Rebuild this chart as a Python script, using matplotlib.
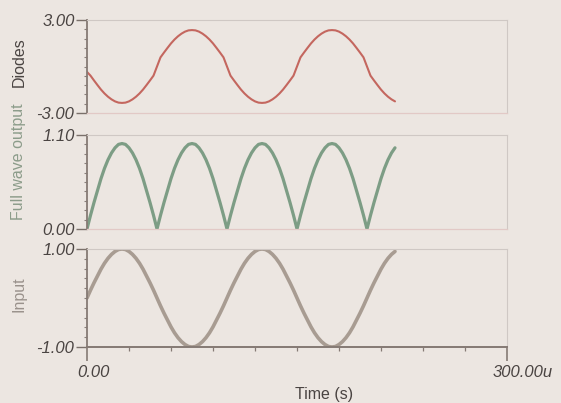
import matplotlib
matplotlib.use("Agg")
import matplotlib.pyplot as plt
from matplotlib.ticker import MultipleLocator
import matplotlib.transforms as mtransforms

# ---- data (time in microseconds, sampled every 2.5 us) ----
time_us = [0, 2.5, 5, 7.5, 10, 12.5, 15, 17.5, 20, 22.5, 25, 27.5, 30, 32.5, 35, 37.5, 40, 42.5, 45, 47.5,
           50, 52.5, 55, 57.5, 60, 62.5, 65, 67.5, 70, 72.5, 75, 77.5, 80, 82.5, 85, 87.5, 90, 92.5, 95, 97.5,
           100, 102.5, 105, 107.5, 110, 112.5, 115, 117.5, 120, 122.5, 125, 127.5, 130, 132.5, 135, 137.5,
           140, 142.5, 145, 147.5, 150, 152.5, 155, 157.5, 160, 162.5, 165, 167.5, 170, 172.5, 175, 177.5,
           180, 182.5, 185, 187.5, 190, 192.5, 195, 197.5, 200, 202.5, 205, 207.5, 210, 212.5, 215, 217.5, 220]
input_v = [0, .16, .31, .45, .59, .71, .81, .89, .95, .99, 1, .99, .95, .89, .81, .71, .59, .45, .31, .16,
           0, -.16, -.31, -.45, -.59, -.71, -.81, -.89, -.95, -.99, -1, -.99, -.95, -.89, -.81, -.71, -.59, -.45, -.31, -.16,
           0, .16, .31, .45, .59, .71, .81, .89, .95, .99, 1, .99, .95, .89, .81, .71, .59, .45, .31, .16,
           0, -.16, -.31, -.45, -.59, -.71, -.81, -.89, -.95, -.99, -1, -.99, -.95, -.89, -.81, -.71, -.59, -.45, -.31, -.16,
           0, .16, .31, .45, .59, .71, .81, .89, .95]
fullwave_v = [0, .16, .31, .45, .59, .71, .81, .89, .95, .99, 1, .99, .95, .89, .81, .71, .59, .45, .31, .16,
              0, .16, .31, .45, .59, .71, .81, .89, .95, .99, 1, .99, .95, .89, .81, .71, .59, .45, .31, .16,
              0, .16, .31, .45, .59, .71, .81, .89, .95, .99, 1, .99, .95, .89, .81, .71, .59, .45, .31, .16,
              0, .16, .31, .45, .59, .71, .81, .89, .95, .99, 1, .99, .95, .89, .81, .71, .59, .45, .31, .16,
              0, .16, .31, .45, .59, .71, .81, .89, .95]
diode_v = [-0.35, -0.59, -0.90, -1.20, -1.49, -1.74, -1.95, -2.12, -2.25, -2.33, -2.35, -2.33, -2.25, -2.12,
           -1.95, -1.74, -1.49, -1.20, -0.90, -0.59,
           0, 0.59, 0.90, 1.20, 1.49, 1.74, 1.95, 2.12, 2.25, 2.33, 2.35, 2.33, 2.25, 2.12,
           1.95, 1.74, 1.49, 1.20, 0.90, 0.59,
           0, -0.59, -0.90, -1.20, -1.49, -1.74, -1.95, -2.12, -2.25, -2.33, -2.35, -2.33, -2.25, -2.12,
           -1.95, -1.74, -1.49, -1.20, -0.90, -0.59,
           0, 0.59, 0.90, 1.20, 1.49, 1.74, 1.95, 2.12, 2.25, 2.33, 2.35, 2.33, 2.25, 2.12,
           1.95, 1.74, 1.49, 1.20, 0.90, 0.59,
           0, -0.59, -0.90, -1.20, -1.49, -1.74, -1.95, -2.12, -2.25]

x_range = (0, 300)
x_ticklabels = ["0.00", "300.00u"]
panels = [
    dict(name="Diodes", v=diode_v, ylim=(-3.0, 3.0), ylabels=["-3.00", "3.00"],
         color="#c4675f", lw=1.5, lab_color="#4a4442"),
    dict(name="Full wave output", v=fullwave_v, ylim=(0.0, 1.10), ylabels=["0.00", "1.10"],
         color="#7d9d85", lw=2.3, lab_color="#8c9c8a"),
    dict(name="Input", v=input_v, ylim=(-1.0, 1.0), ylabels=["-1.00", "1.00"],
         color="#a89c92", lw=2.6, lab_color="#9a928c"),
]

W, H = 561, 403
bg = "#ece6e1"
fig = plt.figure(figsize=(W / 100, H / 100), dpi=100, facecolor=bg)
plt.rcParams['font.family'] = ['Liberation Sans', 'DejaVu Sans']

left, right = 87, 507
boxes = [(20, 113), (135, 229), (249, 347)]
label_y = [62, 162, 294]

for i, (p, (top, bot)) in enumerate(zip(panels, boxes)):
    ax = fig.add_axes([left / W, 1 - bot / H, (right - left) / W, (bot - top) / H])
    ax.set_facecolor(bg)
    ax.plot(time_us, p["v"], color=p["color"], lw=p["lw"], solid_capstyle="round",
            solid_joinstyle="round")
    ax.set_xlim(*x_range)
    ax.set_ylim(*p["ylim"])
    ax.set_yticks(list(p["ylim"]))
    ax.set_yticklabels(p["ylabels"], fontsize=12, style="italic", color="#4a4442")
    ax.yaxis.set_minor_locator(MultipleLocator((p["ylim"][1] - p["ylim"][0]) / 10))
    ax.tick_params(axis="y", which="major", length=8, width=1, color="#7a706a", pad=1)
    ax.tick_params(axis="y", which="minor", length=2.5, width=0.8, color="#8a807a")
    for s in ["top", "right"]:
        ax.spines[s].set_color("#cfc8c4")
        ax.spines[s].set_linewidth(0.8)
    ax.spines["left"].set_color("#857a74")
    ax.spines["left"].set_linewidth(1.3)
    if i < 2:
        ax.spines["bottom"].set_color("#e2c9c6")
        ax.spines["bottom"].set_linewidth(0.9)
        ax.set_xticks([])
    else:
        ax.spines["bottom"].set_color("#857a74")
        ax.spines["bottom"].set_linewidth(1.4)
        ax.set_xticks(list(x_range))
        ax.set_xticklabels(x_ticklabels, fontsize=12, style="italic", color="#4a4442")
        ax.xaxis.set_minor_locator(MultipleLocator(30))
        ax.tick_params(axis="x", which="major", length=10, width=1.2, color="#857a74", pad=3)
        ax.tick_params(axis="x", which="minor", length=3, width=0.9, color="#857a74")
        offs = [6, 16]
        for lab, dx in zip(ax.get_xticklabels(), offs):
            lab.set_transform(lab.get_transform() +
                              mtransforms.ScaledTranslation(dx / 100, 0, fig.dpi_scale_trans))
    fig.text(19 / W, 1 - label_y[i] / H, p["name"], rotation=90, ha="center", va="center",
             fontsize=11.5, color=p["lab_color"])

fig.text(324 / W, 1 - 395 / H, "Time (s)", ha="center", va="center", fontsize=11.5,
         color="#4a4442")

fig.savefig("out.png", dpi=100, facecolor=bg)
